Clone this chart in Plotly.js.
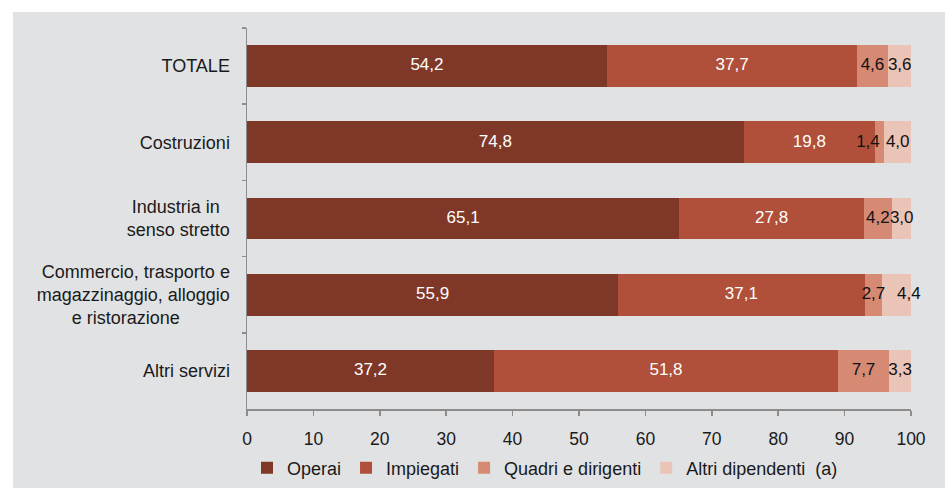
<!DOCTYPE html>
<html>
<head>
<meta charset="utf-8">
<script src="https://cdn.plot.ly/plotly-3.0.1.min.js"></script>
<style>
  html, body { margin: 0; padding: 0; background: #ffffff; width: 945px; height: 488px; overflow: hidden; }
  #chart { position: absolute; left: 13px; top: 12px; width: 932px; height: 476px; }
</style>
</head>
<body>
<div id="chart"></div>
<script>
const categories = [
  "TOTALE",
  "Costruzioni",
  "Industria in\u00A0\u00A0<br>senso stretto",
  "Commercio, trasporto e<br>magazzinaggio, alloggio<br>e ristorazione" + "\u00A0".repeat(10),
  "Altri servizi"
];
const seriesNames = ["Operai", "Impiegati", "Quadri e dirigenti", "Altri dipendenti  (a)"];
const operai     = [54.2, 74.8, 65.1, 55.9, 37.2];
const impiegati  = [37.7, 19.8, 27.8, 37.1, 51.8];
const quadri     = [4.6, 1.4, 4.2, 2.7, 7.7];
const altri      = [3.6, 4.0, 3.0, 4.4, 3.3];
const xTicks     = [0, 10, 20, 30, 40, 50, 60, 70, 80, 90, 100];

const allSeries = [operai, impiegati, quadri, altri];
const colors = ["#7f3828", "#b0503a", "#d68a74", "#ebc4b8"];
const textColors = ["#ffffff", "#ffffff", "#111111", "#111111"];
// label placement styles (per series, per category)
const labelPos = [
  ["middle center", "middle center", "middle center", "middle center", "middle center"],
  ["middle center", "middle center", "middle center", "middle center", "middle center"],
  ["middle center", "middle left", "middle center", "middle center", "middle center"],
  ["middle center", "middle center", "middle center", "middle right", "middle center"]
];
const FONT = "Liberation Sans, Arial, sans-serif";

const barTraces = allSeries.map((vals, i) => ({
  type: "bar",
  orientation: "h",
  name: seriesNames[i],
  x: vals,
  y: categories,
  marker: { color: colors[i], line: { width: 0 } },
  hoverinfo: "skip"
}));

// value labels drawn on top of all bars, at each segment's midpoint
const labelTraces = allSeries.map((vals, i) => {
  const mids = vals.map((v, k) => {
    let base = 0;
    for (let j = 0; j < i; j++) base += allSeries[j][k];
    return base + v / 2;
  });
  return {
    type: "scatter",
    mode: "text",
    x: mids,
    y: categories,
    text: vals.map(v => v.toFixed(1).replace(".", ",")),
    textposition: labelPos[i],
    textfont: { family: FONT, size: 17, color: textColors[i] },
    marker: { size: 0 },
    showlegend: false,
    cliponaxis: false,
    hoverinfo: "skip"
  };
});

const layout = {
  width: 932,
  height: 476,
  barmode: "stack",
  bargap: 0.45,
  paper_bgcolor: "#e1e2e4",
  plot_bgcolor: "#e1e2e4",
  margin: { l: 234, r: 34, t: 16, b: 79, autoexpand: false },
  font: { family: FONT, size: 17, color: "#1a1a1a" },
  showlegend: true,
  legend: {
    orientation: "h",
    x: 0.0, xanchor: "left",
    y: -0.155, yanchor: "middle",
    font: { family: FONT, size: 18, color: "#1a1a1a" },
    bgcolor: "rgba(0,0,0,0)",
    traceorder: "normal"
  },
  xaxis: {
    range: [0, 100],
    tickvals: xTicks,
    ticktext: xTicks.map(String),
    showgrid: false,
    zeroline: false,
    showline: true,
    linecolor: "#8c8c8c",
    linewidth: 1.5,
    ticks: "outside",
    ticklen: 5,
    tickwidth: 1.5,
    tickcolor: "#8c8c8c",
    ticklabelstandoff: 8,
    automargin: false,
    tickfont: { family: FONT, size: 17.5, color: "#1a1a1a" },
    fixedrange: true
  },
  yaxis: {
    type: "category",
    categoryorder: "array",
    categoryarray: categories,
    range: [4.5, -0.5],
    tickson: "boundaries",
    showgrid: false,
    zeroline: false,
    showline: true,
    linecolor: "#8c8c8c",
    linewidth: 1.5,
    ticks: "outside",
    ticklen: 4,
    tickwidth: 1.5,
    tickcolor: "#8c8c8c",
    ticklabelstandoff: 12,
    automargin: false,
    tickfont: { family: FONT, size: 18, color: "#1a1a1a" },
    fixedrange: true
  }
};

Plotly.newPlot("chart", barTraces.concat(labelTraces), layout, { displayModeBar: false, staticPlot: true });
</script>
</body>
</html>
